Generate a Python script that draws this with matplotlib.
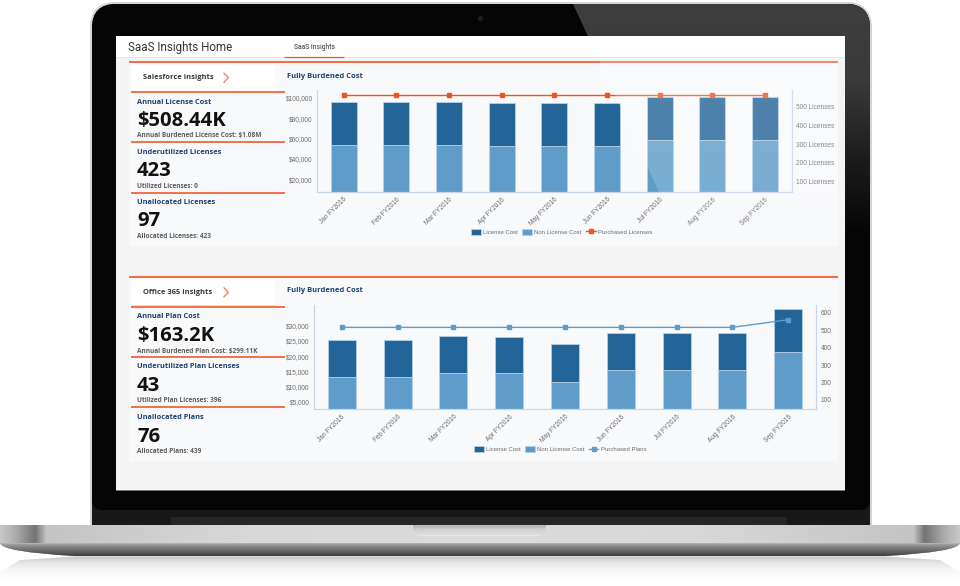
import numpy as np
import matplotlib
matplotlib.use("Agg")
import matplotlib.pyplot as plt
from matplotlib.patches import FancyBboxPatch, Rectangle, PathPatch, Polygon
from matplotlib.path import Path
from matplotlib.colors import to_rgb

W, H = 960, 586
months = ["Jan FY2016", "Feb FY2016", "Mar FY2016", "Apr FY2016", "May FY2016",
          "Jun FY2016", "Jul FY2016", "Aug FY2016", "Sep FY2016"]

# Salesforce chart
sf_non_license = [53600, 53600, 53600, 52300, 52300, 52300, 58500, 58500, 58500]
sf_total = [95500, 95500, 95500, 94800, 94800, 94800, 100400, 100400, 100400]
sf_purchased = [564, 564, 564, 564, 564, 564, 564, 564, 564]
sf_left_ticks = [20000, 40000, 60000, 80000, 100000]
sf_right_ticks = [100, 200, 300, 400, 500]

# Office 365 chart
o3_non_license = [13160, 13160, 14370, 14370, 11600, 15400, 15400, 15400, 21350]
o3_total = [25430, 25430, 26540, 26400, 23900, 27700, 27700, 27700, 35600]
o3_purchased = [517, 517, 517, 517, 517, 517, 517, 517, 561]
o3_left_ticks = [5000, 10000, 15000, 20000, 25000, 30000]
o3_right_ticks = [100, 200, 300, 400, 500, 600]

sf_kpis = [("Annual License Cost", "$508.44K", "Annual Burdened License Cost: $1.08M"),
           ("Underutilized Licenses", "423", "Utilized Licenses: 0"),
           ("Unallocated Licenses", "97", "Allocated Licenses: 423")]
o3_kpis = [("Annual Plan Cost", "$163.2K", "Annual Burdened Plan Cost: $299.11K"),
           ("Underutilized Plan Licenses", "43", "Utilized Plan Licenses: 396"),
           ("Unallocated Plans", "76", "Allocated Plans: 439")]

ORANGE = "#f2592a"
DARK = "#236499"
LIGHT = "#5f9cc9"
EDGE = "#b5d0e6"
AXIS = "#c8d6e8"
NAVY = "#1c3f6e"
TICK = "#6c6c6c"
KFONT = ["Open Sans", "DejaVu Sans"]
CFONT = ["Liberation Sans", "DejaVu Sans"]

fig = plt.figure(figsize=(W / 100, H / 100), dpi=100, facecolor="white")
bg = fig.add_axes([0, 0, 1, 1], zorder=0)
bg.set_xlim(0, W); bg.set_ylim(H, 0); bg.axis("off")


def gradient(ax, stops, extent, clip, horizontal=False, zorder=2, n=480):
    pos = [s[0] for s in stops]
    cols = np.array([to_rgb(s[1]) for s in stops])
    t = np.linspace(pos[0], pos[-1], n)
    arr = np.stack([np.interp(t, pos, cols[:, i]) for i in range(3)], axis=-1)
    arr = arr[None, :, :] if horizontal else arr[:, None, :]
    im = ax.imshow(arr, extent=extent, aspect="auto", zorder=zorder, interpolation="bilinear")
    im.set_clip_path(clip)
    ax.set_xlim(0, W); ax.set_ylim(H, 0)
    return im


def rect(ax, x0, y0, x1, y1, color, z=3, **kw):
    p = Rectangle((x0, y0), x1 - x0, y1 - y0, fc=color, ec="none", zorder=z, **kw)
    ax.add_patch(p)
    return p


# laptop lid
bg.add_patch(FancyBboxPatch((116, 28), 730, 498, boxstyle="round,pad=26,rounding_size=26",
                            fc="#d4d4d4", ec="none", zorder=1))
bg.add_patch(FancyBboxPatch((116, 28), 730, 497.5, boxstyle="round,pad=24,rounding_size=24",
                            fc="#181818", ec="none", zorder=1.4))
rect(bg, 92, 515, 870, 526, "#181818", z=1.45)
lid_path = Path([(116, 4), (846, 4), (870, 4), (870, 28), (870, 500), (870, 510), (860, 510), (102, 510), (92, 510),
                 (92, 500), (92, 28), (92, 4), (116, 4)],
                [Path.MOVETO, Path.LINETO, Path.CURVE3, Path.CURVE3, Path.LINETO, Path.CURVE3, Path.CURVE3, Path.LINETO,
                 Path.CURVE3, Path.CURVE3, Path.LINETO, Path.CURVE3, Path.CURVE3])
bg.add_patch(PathPatch(lid_path, fc="#050505", ec="none", zorder=1.5))
rect(bg, 171, 517, 787, 525.5, "#262626", z=1.7)
glare_path = Path([(573, 4), (846, 4), (870, 4), (870, 28), (870, 240), (683, 240), (573, 4)],
                  [Path.MOVETO, Path.LINETO, Path.CURVE3, Path.CURVE3, Path.LINETO, Path.LINETO, Path.CLOSEPOLY])
glare_patch = PathPatch(glare_path, fc="none", ec="none")
bg.add_patch(glare_patch)
gradient(bg, [(4, "#3e3e3e"), (80, "#3a3a3a"), (160, "#1c1c1c"), (235, "#050505"), (240, "#050505")],
         (560, 875, 240, 4), glare_patch, zorder=1.8)
bg.plot([480], [18], "o", ms=3, color="#1c1c26", zorder=2)

# screen
rect(bg, 115.5, 35.5, 845, 490.5, "#f4f4f4")
rect(bg, 115.5, 35.5, 845, 57.3, "#ffffff", z=3.1)
rect(bg, 115.5, 57, 845, 58, "#e6e6e6", z=3.1)
rect(bg, 115.5, 489.8, 845, 490.6, "#777777", z=3.2)
bg.plot([284, 344], [57.2, 57.2], color=ORANGE, lw=0.9, solid_capstyle="butt", zorder=3.3)
bg.text(127.5, 47, "SaaS Insights Home", fontsize=8.4, family=["Roboto", "DejaVu Sans"],
        color="#333333", va="center", zorder=4)
bg.text(314, 47, "SaaS Insights", fontsize=4.9, family=["Roboto", "DejaVu Sans"], weight="medium",
        color="#555555", va="center", ha="center", zorder=4)


def panel(top, bottom, card_top, card_bot, title, title_y, line_ys, ys, kpis, fb_y):
    rect(bg, 129, top, 838, bottom, "#f8f9fb", z=3.1)
    bg.plot([129, 838], [top, top], color=ORANGE, lw=1.25, solid_capstyle="butt", zorder=3.3)
    rect(bg, 131.7, card_top, 275, card_bot, "#ffffff", z=3.2)
    rect(bg, 131.7, card_bot, 275, card_bot + 0.7, "#dddddd", z=3.2)
    for ly in line_ys:
        bg.plot([131, 284.5], [ly, ly], color=ORANGE, lw=1.2, solid_capstyle="butt", zorder=3.3)
    bg.text(143, title_y, title, fontsize=5.4, family=KFONT, weight="bold", color="#3a3a3a",
            va="center", zorder=4)
    bg.plot([224, 228.4, 224], [title_y - 4.5, title_y, title_y + 4.5], color="#f47a50", lw=0.9, zorder=4)
    for (head, big, sub), (y1, y2, y3) in zip(kpis, ys):
        bg.text(137, y1, head, fontsize=5.35, family=KFONT, weight="bold", color=NAVY, va="center", zorder=4)
        bg.text(137, y2 + 1.5, big, fontsize=14.6, family=KFONT, weight="bold", color="#111111", va="center", zorder=4)
        bg.text(137, y3, sub, fontsize=4.7, family=KFONT, weight="bold", color="#5c5c5c", va="center", zorder=4)
    bg.text(286.7, fb_y, "Fully Burdened Cost", fontsize=5.4, family=KFONT, weight="bold",
            color=NAVY, va="center", zorder=4)


panel(62, 245.7, 65, 90.5, "Salesforce insights", 77.7, [91.7, 142, 192.7],
      [(102, 119.3, 136), (152, 170, 186), (202.3, 220, 236.3)], sf_kpis, 76.3)
panel(276.7, 460.7, 280, 304.8, "Office 365 insights", 292.3, [306.7, 357.3, 407.3],
      [(316.7, 334.3, 351), (367, 384.7, 401), (417.3, 435, 451.3)], o3_kpis, 291)


def chart(box, xlim, ylim, y2lim, nonlic, total, purchased, lt, rt, rfmt, width, line_col, line_name, leg_xy):
    l, t, r, b = box
    ax = fig.add_axes([l / W, 1 - b / H, (r - l) / W, (b - t) / H], zorder=2)
    ax.patch.set_alpha(0)
    x = np.arange(len(months))
    nl = np.array(nonlic); tot = np.array(total)
    bars1 = ax.bar(x, nl, width=width, color=LIGHT, edgecolor=EDGE, linewidth=0.6, label="Non License Cost")
    bars2 = ax.bar(x, tot - nl, bottom=nl, width=width, color=DARK, edgecolor=EDGE, linewidth=0.6, label="License Cost")
    ax.set_xlim(*xlim); ax.set_ylim(*ylim)
    ax.set_xticks(x, months, rotation=45, ha="right", rotation_mode="anchor",
                  fontsize=4.7, family=CFONT, color=TICK)
    ax.set_yticks(lt, [f"${v:,}" for v in lt], fontsize=4.7, family=CFONT, color=TICK)
    ax.tick_params(length=0, pad=2.9)
    ax.tick_params(axis="x", pad=3)
    ax2 = ax.twinx()
    ax2.set_zorder(3); ax2.patch.set_alpha(0)
    ax2.set_ylim(*y2lim)
    ln, = ax2.plot(x, purchased, color=line_col, lw=1.0, marker="s", ms=3.4, label=line_name)
    ax2.set_yticks(rt, [rfmt.format(v) for v in rt], fontsize=4.7, family=CFONT, color=TICK)
    ax2.tick_params(length=0, pad=3)
    for a in (ax, ax2):
        a.spines["top"].set_visible(False)
        for s in ("left", "right", "bottom"):
            a.spines[s].set_color(AXIS); a.spines[s].set_linewidth(0.8)
    ax.legend([bars2, bars1, ln], ["License Cost", "Non License Cost", line_name], ncol=3, frameon=False,
              loc="center", bbox_to_anchor=(leg_xy[0] / W, 1 - leg_xy[1] / H), bbox_transform=fig.transFigure,
              prop={"family": "Liberation Sans", "size": 4.35}, labelcolor=TICK,
              handlelength=1.65, handleheight=1.1, handletextpad=0.35, columnspacing=0.7, borderpad=0, borderaxespad=0)
    return ax


chart((316.7, 90, 791.7, 192), (-0.513, 8.51), (7550, 107500), (43, 590),
      sf_non_license, sf_total, sf_purchased, sf_left_ticks, sf_right_ticks, "{} Licenses",
      0.494, "#f4511e", "Purchased Licenses", (561.5, 231.7))
chart((313.7, 305, 816.3, 409.3), (-0.502, 8.505), (2500, 36800), (44.6, 646),
      o3_non_license, o3_total, o3_purchased, o3_left_ticks, o3_right_ticks, "{}",
      0.502, "#5f9cc9", "Purchased Plans", (560, 449.2))

# glare over the top right of the screen
ov = fig.add_axes([0, 0, 1, 1], zorder=5)
ov.set_xlim(0, W); ov.set_ylim(H, 0); ov.axis("off"); ov.patch.set_alpha(0)
gl = np.ones((200, 2, 4))
gl[:, :, 3] = np.interp(np.linspace(58, 258, 200), [58, 190, 258], [0.22, 0.17, 0.0])[:, None]
img = ov.imshow(gl, extent=(590, 845, 258, 58), aspect="auto", zorder=1)
clip = Polygon([(598, 58), (838, 58), (838, 258), (689, 258)], closed=True, transform=ov.transData, fc="none", ec="none")
ov.add_patch(clip); img.set_clip_path(clip)
ov.set_xlim(0, W); ov.set_ylim(H, 0)

# laptop base
base_path = Path([(0, 525.3), (960, 525.3), (960, 543), (958, 552), (885, 556), (75, 556), (2, 552), (0, 543), (0, 525.3)],
                 [Path.MOVETO, Path.LINETO, Path.LINETO, Path.CURVE3, Path.CURVE3, Path.LINETO, Path.CURVE3, Path.CURVE3, Path.CLOSEPOLY])
patch = PathPatch(base_path, fc="#888888", ec="none", zorder=2)
bg.add_patch(patch)
gradient(bg, [(525, "#d8d8d8"), (543, "#d4d4d4"), (543.4, "#a6a6a6"), (548, "#7c7c7c"), (553, "#585858"), (556, "#3a3a3a")],
         (0, W, 556, 525), patch, zorder=2.1)
band = Rectangle((0, 525.3), W, 17.7, transform=bg.transData, fc="none", ec="none")
bg.add_patch(band)
gradient(bg, [(0, "#c8c8c8"), (15, "#acacac"), (35, "#747474"), (46, "#c4c4c4"), (250, "#d8d8d8"), (480, "#dcdcdc"),
              (700, "#d8d8d8"), (914, "#c4c4c4"), (925, "#747474"), (945, "#acacac"), (960, "#c8c8c8")],
         (0, W, 543, 525.3), band, horizontal=True, zorder=2.2, n=960)
notch_path = Path([(413, 525.3), (546, 525.3), (546, 530), (545, 536), (538, 536), (421, 536), (414, 536), (413, 530), (413, 525.3)],
                  [Path.MOVETO, Path.LINETO, Path.LINETO, Path.CURVE3, Path.CURVE3, Path.LINETO, Path.CURVE3, Path.CURVE3, Path.CLOSEPOLY])
notch = PathPatch(notch_path, fc="none", ec="none")
bg.add_patch(notch)
gradient(bg, [(525, "#a8a8a8"), (529, "#d0d0d0"), (535, "#dedede"), (536, "#f2f2f2")], (413, 546, 536, 525.3), notch, zorder=2.3)
# reflection below the base
ref_path = Path([(75, 556.5), (885, 556.5), (940, 560), (960, 572), (960, 586), (0, 586), (0, 572), (20, 560), (75, 556.5)],
                [Path.MOVETO, Path.LINETO, Path.LINETO, Path.LINETO, Path.LINETO, Path.LINETO, Path.LINETO, Path.LINETO, Path.CLOSEPOLY])
ref = PathPatch(ref_path, fc="none", ec="none")
bg.add_patch(ref)
gradient(bg, [(556, "#c4c4c4"), (562, "#e2e2e2"), (570, "#f6f6f6"), (580, "#ffffff"), (586, "#ffffff")], (0, W, 586, 556), ref, zorder=1.2)

fig.savefig("out.png", dpi=100, facecolor="white")
